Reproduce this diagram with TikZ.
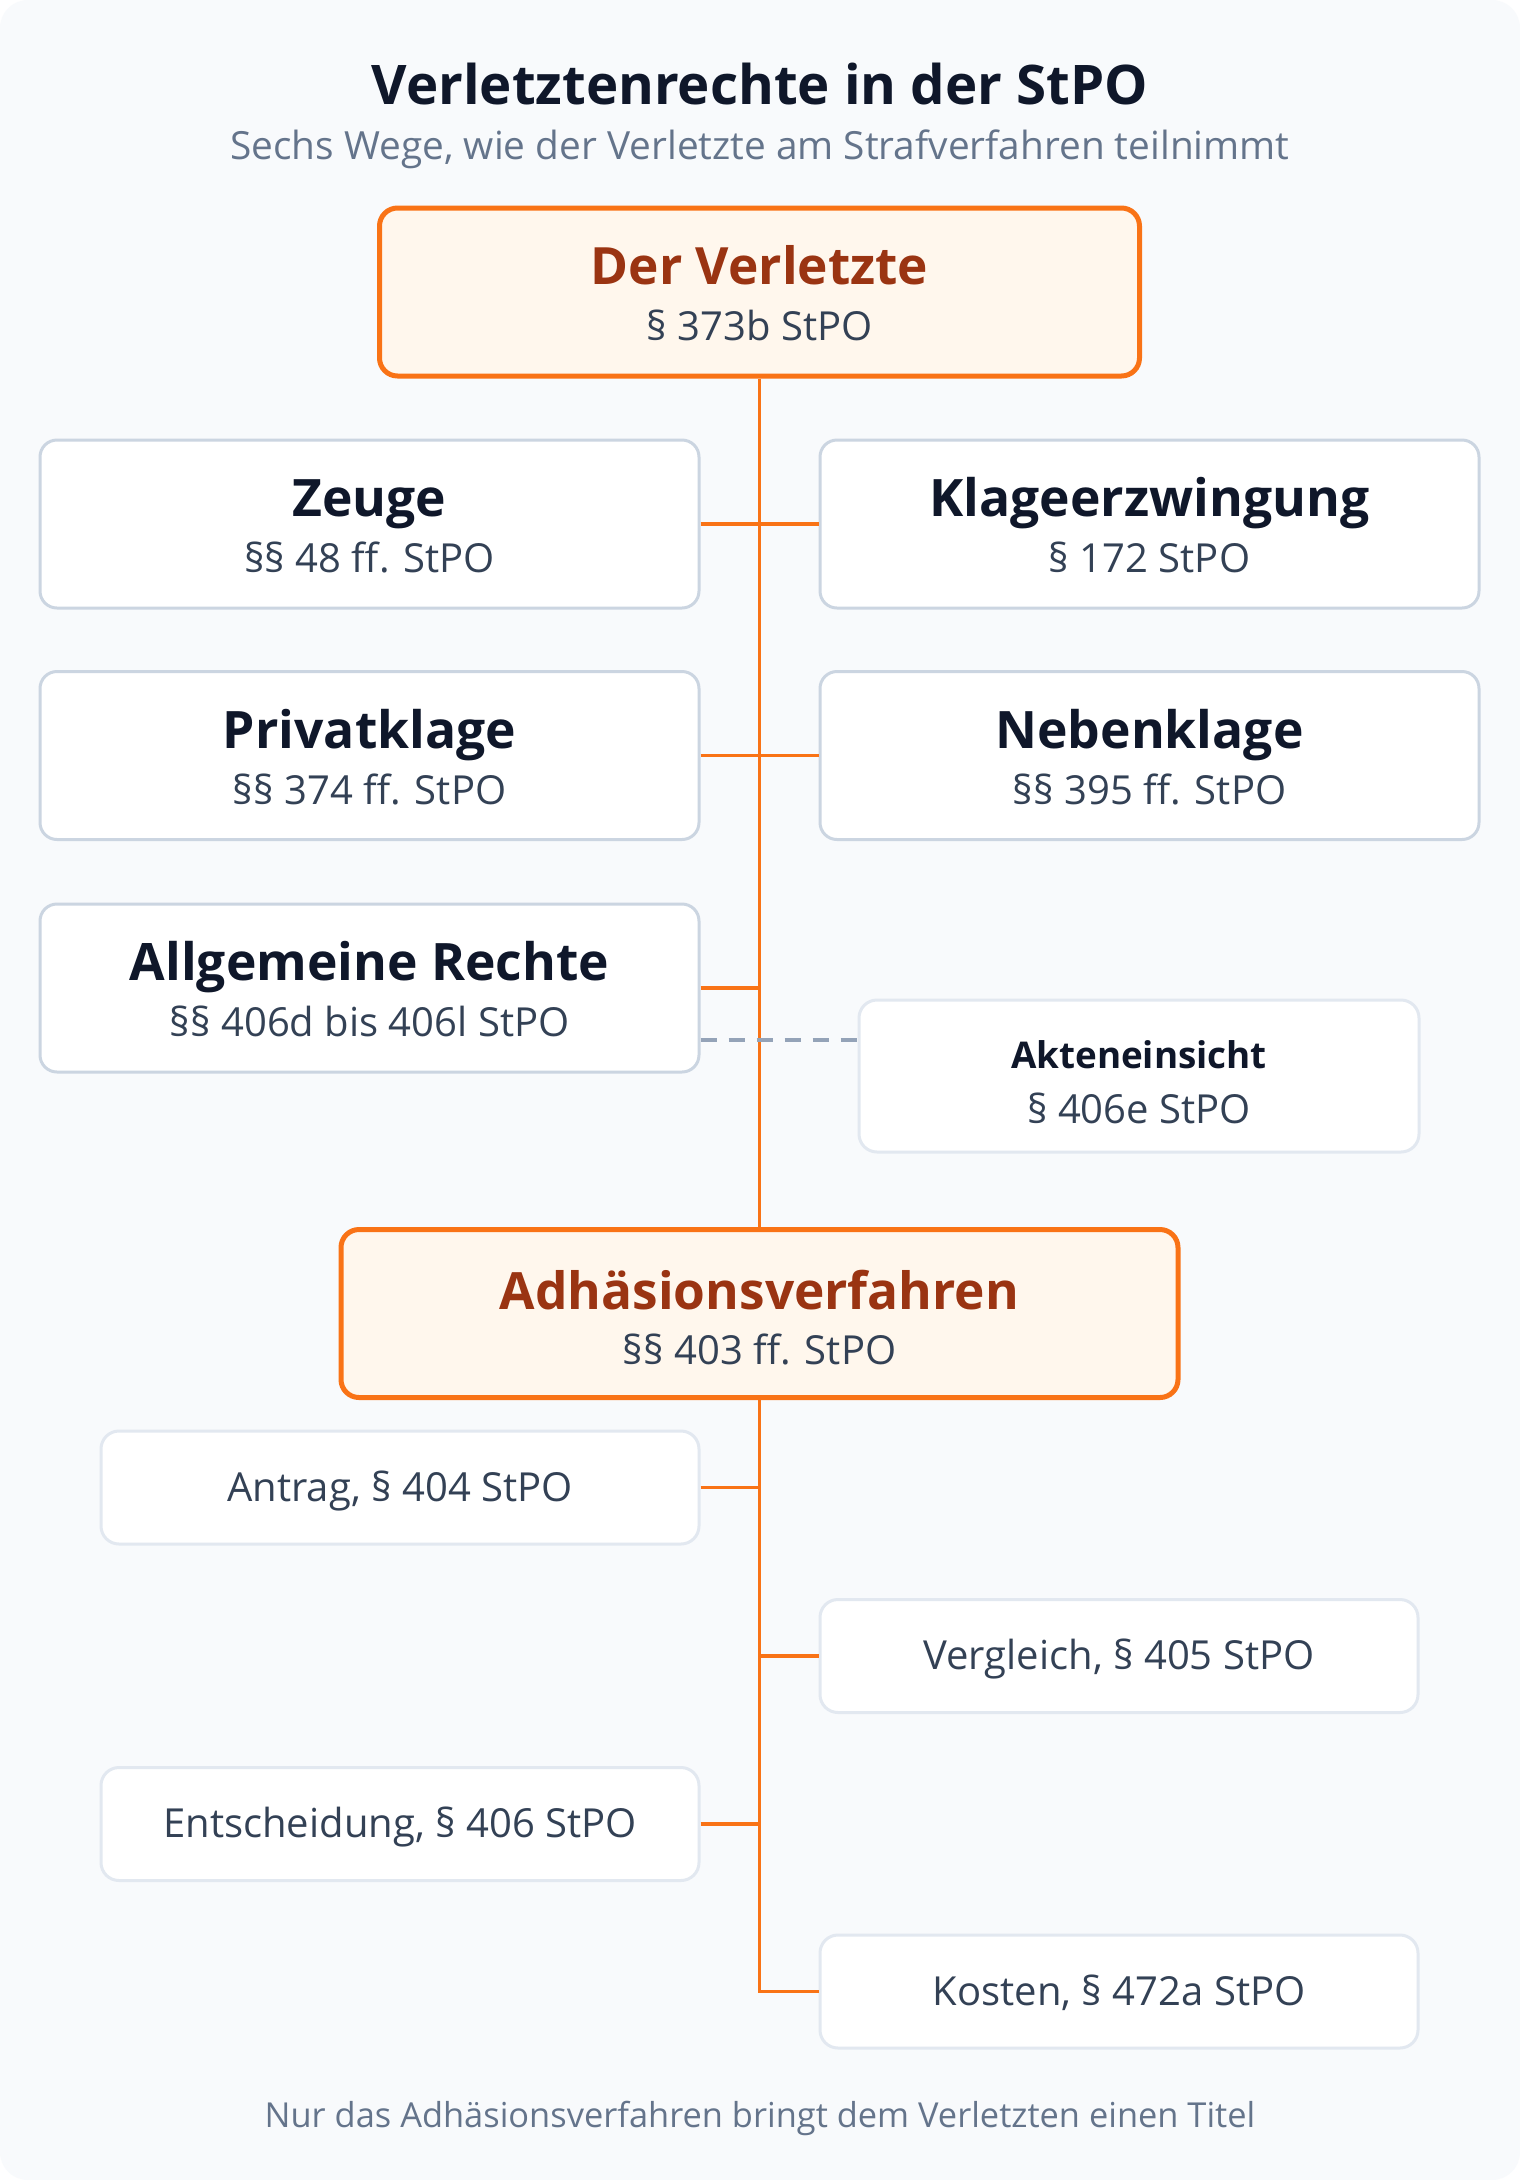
\documentclass[tikz,border=0pt]{standalone}
\usepackage{fontspec}
\setmainfont{Open Sans}
\usetikzlibrary{calc}
\definecolor{bgc}{HTML}{F8FAFC}
\definecolor{ink}{HTML}{0F172A}
\definecolor{muted}{HTML}{64748B}
\definecolor{slate}{HTML}{334155}
\definecolor{bord}{HTML}{CBD5E1}
\definecolor{bordl}{HTML}{E2E8F0}
\definecolor{orng}{HTML}{F97316}
\definecolor{orfill}{HTML}{FFF7ED}
\definecolor{ordark}{HTML}{9A3412}
\definecolor{dashc}{HTML}{94A3B8}
\begin{document}
\begin{tikzpicture}[x=0.5pt,y=-0.5pt,
  box/.style={draw=bord, line width=1.5pt, fill=white, rounded corners=8.5pt, inner sep=0pt},
  lbox/.style={draw=bordl, line width=1.5pt, fill=white, rounded corners=9pt, inner sep=0pt},
  obox/.style={draw=orng, line width=2.5pt, fill=orfill, rounded corners=9pt, inner sep=0pt},
  big/.style={minimum width=329.5pt, minimum height=84pt},
  small/.style={minimum width=299pt, minimum height=56.5pt},
  ttl/.style={anchor=base, inner sep=0pt, text=ink, font=\fontsize{25.8pt}{30pt}\selectfont\bfseries},
  sub/.style={anchor=base, inner sep=0pt, text=slate, font=\fontsize{20pt}{24pt}\selectfont},
  otl/.style={anchor=base, inner sep=0pt, text=ordark, font=\fontsize{25.7pt}{30pt}\selectfont\bfseries},
  conn/.style={draw=orng, line width=1.9pt},
  dconn/.style={draw=dashc, line width=2pt, dash pattern=on 8pt off 6pt}
]
\useasboundingbox (0,0) rectangle (1520,2180);
\fill[white] (0,0) rectangle (1520,2180);
\fill[bgc, rounded corners=14pt] (0,0) rectangle (1520,2180);

% header
\node[anchor=base, inner sep=0pt, text=ink, font=\fontsize{27.3pt}{32pt}\selectfont\bfseries] (title) at (760,104) {Verletztenrechte in der StPO};
\node[anchor=base, inner sep=0pt, text=muted, font=\fontsize{19.4pt}{23pt}\selectfont] (subtitle) at (760,159.5) {Sechs Wege, wie der Verletzte am Strafverfahren teilnimmt};

% boxes
\node[obox, minimum width=380pt, minimum height=84pt] (verl) at (759.5,292) {};
\node[box, big] (zeuge) at (369.5,524) {};
\node[box, big] (klage) at (1149.5,524) {};
\node[box, big] (privat) at (369.5,755.5) {};
\node[box, big] (neben) at (1149.5,755.5) {};
\node[box, big] (allg) at (369.5,988) {};
\node[lbox, minimum width=280pt, minimum height=76pt] (akten) at (1139,1076) {};
\node[obox, minimum width=418.5pt, minimum height=84pt] (adh) at (759.5,1313.5) {};
\node[lbox, small] (antrag) at (400,1487.5) {};
\node[lbox, small] (vergl) at (1119,1656) {};
\node[lbox, small] (entsch) at (400,1824) {};
\node[lbox, small] (kosten) at (1119,1991.5) {};

% texts
\node[otl] (verl-t) at (759.5,284) {Der Verletzte};
\node[sub] (verl-s) at (759.5,340) {§ 373b StPO};
\node[ttl] (zeuge-t) at (369.5,516.5) {Zeuge};
\node[sub] (zeuge-s) at (369.5,572) {§§ 48 ff. StPO};
\node[ttl] (klage-t) at (1149.5,516.5) {Klageerzwingung};
\node[sub] (klage-s) at (1149.5,572) {§ 172 StPO};
\node[ttl] (privat-t) at (369.5,748) {Privatklage};
\node[sub] (privat-s) at (369.5,804) {§§ 374 ff. StPO};
\node[ttl] (neben-t) at (1149.5,748) {Nebenklage};
\node[sub] (neben-s) at (1149.5,804) {§§ 395 ff. StPO};
\node[ttl] (allg-t) at (369.5,980.5) {Allgemeine Rechte};
\node[sub] (allg-s) at (369.5,1036.5) {§§ 406d bis 406l StPO};
\node[ttl, font=\fontsize{18.4pt}{22pt}\selectfont\bfseries] (akten-t) at (1139,1068) {Akteneinsicht};
\node[sub] (akten-s) at (1139,1123) {§ 406e StPO};
\node[otl] (adh-t) at (759.5,1309) {Adhäsionsverfahren};
\node[sub] (adh-s) at (759.5,1364) {§§ 403 ff. StPO};
\node[sub] (antrag-t) at (400,1501) {Antrag, § 404 StPO};
\node[sub] (vergl-t) at (1119,1669.5) {Vergleich, § 405 StPO};
\node[sub] (entsch-t) at (400,1837.5) {Entscheidung, § 406 StPO};
\node[sub] (kosten-t) at (1119,2005) {Kosten, § 472a StPO};

\node[anchor=base, inner sep=0pt, text=muted, font=\fontsize{17.2pt}{21pt}\selectfont] (foot) at (760,2127) {Nur das Adhäsionsverfahren bringt dem Verletzten einen Titel};

% connectors
\coordinate (dy) at (0,1040);
\draw[conn] (verl.south) -- (adh.north);
\draw[conn] (zeuge.east) -- (klage.west);
\draw[conn] (privat.east) -- (neben.west);
\draw[conn] (allg.east) -- (allg.east -| verl.south);
\draw[dconn] (allg.east |- dy) -- (akten.west |- dy);
\draw[conn] (adh.south) |- (kosten.west);
\draw[conn] (antrag.east) -- (antrag.east -| adh.south);
\draw[conn] (vergl.west) -- (vergl.west -| adh.south);
\draw[conn] (entsch.east) -- (entsch.east -| adh.south);
\end{tikzpicture}
\end{document}
